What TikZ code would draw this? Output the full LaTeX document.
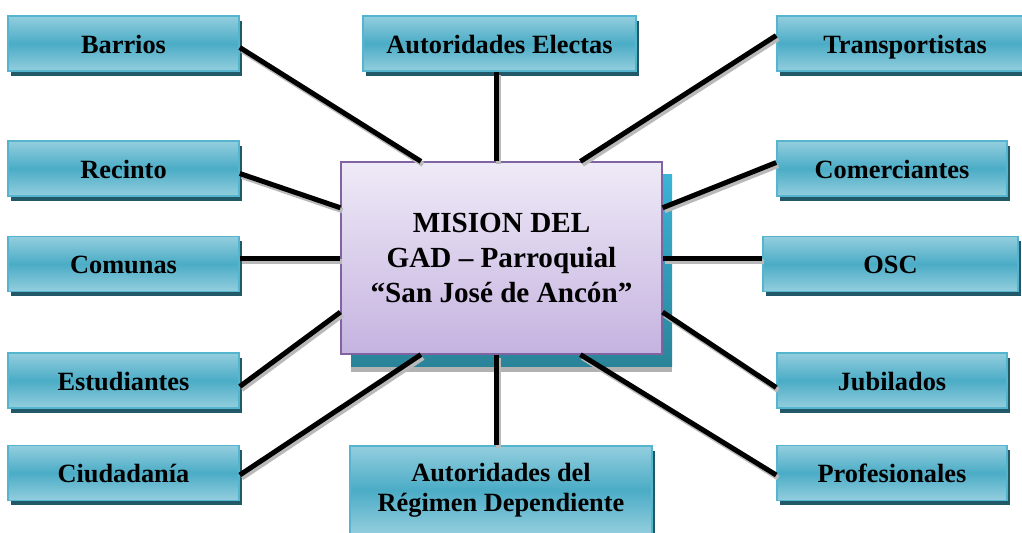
\documentclass[tikz,border=0pt]{standalone}
\usepackage{fontspec}
\setmainfont{Liberation Serif}
\usetikzlibrary{shadows,calc}
\definecolor{boxmid}{HTML}{4BACC6}
\definecolor{boxlight}{HTML}{93CEDE}
\definecolor{boxedge}{HTML}{55B4CE}
\definecolor{boxshadow}{HTML}{215968}
\definecolor{misiontop}{HTML}{EFEAF7}
\definecolor{misionbottom}{HTML}{C5B3E0}
\definecolor{misionborder}{HTML}{8064A2}
\definecolor{tealtop}{HTML}{3AB4D6}
\definecolor{tealbottom}{HTML}{2A8499}
\newcommand{\px}{0.02cm}

\tikzset{
  actor/.style={draw=boxedge, line width=0.9pt, top color=boxlight,
    bottom color=boxlight, middle color=boxmid, inner sep=0pt,
    minimum height=55*\px, align=center,
    text height=12.5pt, text depth=1.2pt,
    font=\bfseries\fontsize{15}{17}\selectfont,
    drop shadow={shadow xshift=0.06cm, shadow yshift=-0.09cm,
      fill=boxshadow, opacity=1}},
  mision/.style={draw=misionborder, line width=0.7pt, top color=misiontop,
    bottom color=misionbottom, inner sep=0pt, align=center,
    minimum width=321*\px, minimum height=192*\px,
    font=\bfseries\fontsize{16.6}{20}\selectfont,
    drop shadow={shadow xshift=0.2cm, shadow yshift=-0.36cm,
      fill=gray!60, opacity=1},
    drop shadow={shadow xshift=0.2cm, shadow yshift=-0.24cm,
      top color=tealtop, bottom color=tealbottom, opacity=1}},
  link/.style={line width=0.1cm,
    preaction={draw=gray!55, line width=0.1cm,
      transform canvas={xshift=0.04cm, yshift=-0.06cm}}}
}

\begin{document}
\begin{tikzpicture}[x=\px, y=-\px]
  \useasboundingbox (0,0) rectangle (1022,532);

  % centre
  \node[mision] (mision) at (501.5,258)
  {MISION DEL\\GAD -- Parroquial\\``San José de Ancón''};

  % left column
  \node[actor, minimum width=231*\px] (barrios) at (123.5,43.5) {Barrios};
  \node[actor, minimum width=231*\px] (recinto) at (123.5,168.5) {Recinto};
  \node[actor, minimum width=231*\px] (comunas) at (123.5,264) {Comunas};
  \node[actor, minimum width=231*\px] (estud) at (123.5,380.5) {Estudiantes};
  \node[actor, minimum width=231*\px] (ciudad) at (123.5,473) {Ciudadanía};

  % top and bottom
  \node[actor, minimum width=273*\px] (electas) at (499.5,43.5) {Autoridades Electas};
  \node[actor, minimum width=302*\px, minimum height=88*\px,
    text height=, text depth=] (regimen) at (501,490)
  {Autoridades del\\Régimen Dependiente};

  % right column
  \node[actor, minimum width=256*\px] (transp) at (905,43.5) {Transportistas};
  \node[actor, minimum width=230*\px] (comerc) at (892,168.5) {Comerciantes};
  \node[actor, minimum width=255*\px] (osc) at (890.5,264) {OSC};
  \node[actor, minimum width=230*\px] (jubil) at (892,380.5) {Jubilados};
  \node[actor, minimum width=230*\px] (profes) at (892,473) {Profesionales};

  % links to the centre
  \draw[link] ($(barrios.east)+(0,4)$) -- ($(mision.north west)!0.25!(mision.north east)$);
  \draw[link] ($(recinto.east)+(0,5)$) -- ($(mision.north west)!0.24!(mision.south west)$);
  \draw[link] (comunas.east |- mision.west) -- (mision.west);
  \draw[link] ($(estud.east)+(0,6)$) -- ($(mision.north west)!0.78!(mision.south west)$);
  \draw[link] ($(ciudad.east)+(0,2)$) -- ($(mision.south west)!0.25!(mision.south east)$);

  \draw[link] (electas.south -| 496,0) -- (mision.north -| 496,0);
  \draw[link] (regimen.north -| 496,0) -- (mision.south -| 496,0);

  \draw[link] ($(transp.west)+(0,-8)$) -- ($(mision.north west)!0.745!(mision.north east)$);
  \draw[link] ($(comerc.west)+(0,-6)$) -- ($(mision.north east)!0.24!(mision.south east)$);
  \draw[link] (osc.west |- mision.east) -- (mision.east);
  \draw[link] ($(jubil.west)+(0,7)$) -- ($(mision.north east)!0.78!(mision.south east)$);
  \draw[link] ($(profes.west)+(0,2)$) -- ($(mision.south west)!0.745!(mision.south east)$);
\end{tikzpicture}
\end{document}
